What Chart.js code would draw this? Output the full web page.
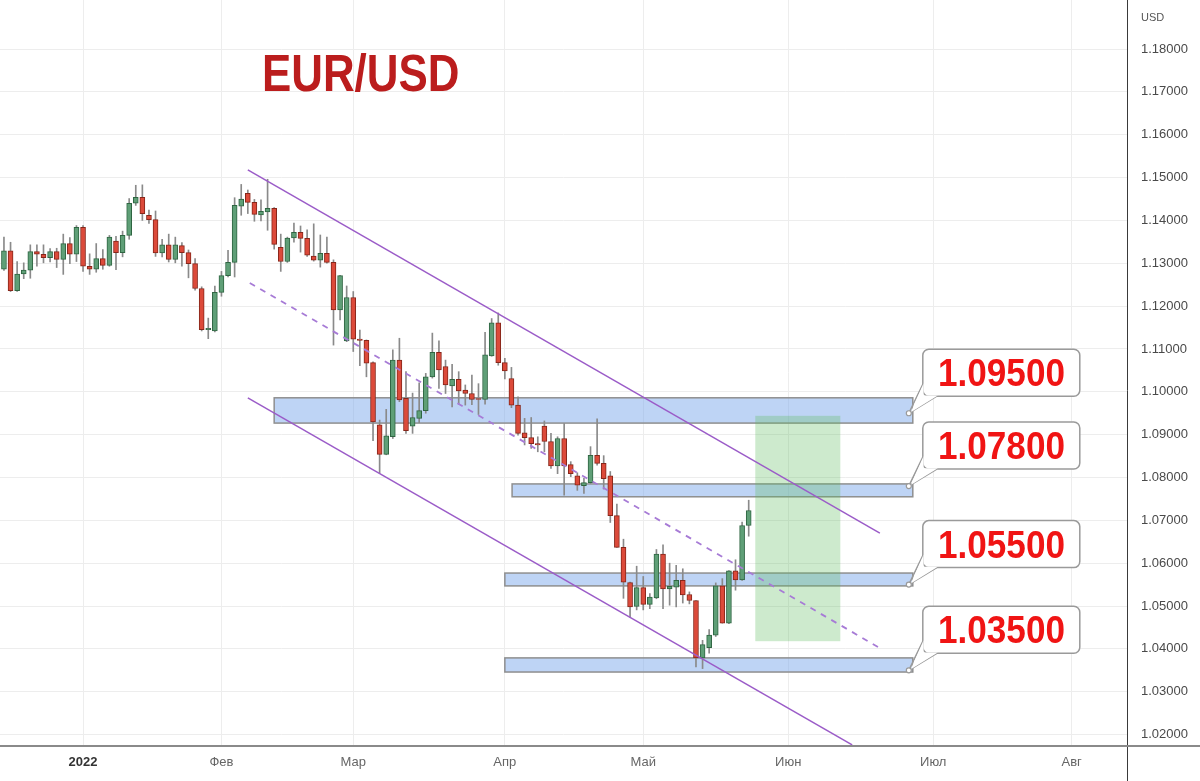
<!DOCTYPE html>
<html>
<head>
<meta charset="utf-8">
<title>EUR/USD</title>
<script src="https://cdn.jsdelivr.net/npm/chart.js@4.4.1/dist/chart.umd.min.js"></script>
<style>
  html, body { margin: 0; padding: 0; background: #fff; }
  #wrap { position: relative; width: 1200px; height: 781px; overflow: hidden; }
  #title {
    position: absolute; left: 262px; top: 48px;
    font: bold 51px "Liberation Sans", Arial, sans-serif; line-height: 51px;
    color: #bb1d1d; white-space: nowrap;
    transform: scaleX(0.86); transform-origin: left top;
  }
  .callout {
    position: absolute; text-align: center; white-space: nowrap;
    font: bold 39px "Liberation Sans", Arial, sans-serif;
    color: #f01414; transform: scaleX(0.9);
  }
</style>
</head>
<body>
<div id="wrap">
  <canvas id="chart" width="1200" height="781"></canvas>
  <div id="title">EUR/USD</div>
</div>
<script>
// daily candles, bar index 0 = 3 Jan 2022 (trading days only)
const firstBar = -12;
const opens = [
  1.1286, 1.1329, 1.1236, 1.1275, 1.1284, 1.1327, 1.1321, 1.1313, 1.1327, 1.1309, 1.1346, 1.1321,
  1.1384, 1.1293, 1.1286, 1.1311, 1.1295, 1.1352, 1.1325, 1.1365, 1.1440, 1.1454,
  1.1412, 1.1402, 1.1324, 1.1343, 1.1309, 1.1341, 1.1325, 1.1299, 1.1241, 1.1145, 1.1142,
  1.1232, 1.1271, 1.1302, 1.1433, 1.1463, 1.1442, 1.1413, 1.1420, 1.1428, 1.1337, 1.1304, 1.1359,
  1.1372, 1.1358, 1.1317, 1.1307, 1.1323, 1.1302, 1.1191, 1.1119,
  1.1220, 1.1123, 1.1120, 1.1068, 1.0923, 1.0854, 1.0895, 1.1074, 1.0985, 1.0920, 1.0938, 1.0956,
  1.1035, 1.1092, 1.1059, 1.1014, 1.1029, 1.1004, 1.0996, 1.0984, 1.0982, 1.1084, 1.1161,
  1.1068, 1.1031, 1.0969, 1.0904, 1.0893, 1.0879, 1.0920, 1.0884, 1.0827, 1.0891, 1.0830,
  1.0804, 1.0781, 1.0788, 1.0852, 1.0833, 1.0804, 1.0711, 1.0637, 1.0555, 1.0499,
  1.0543, 1.0504, 1.0519, 1.0621, 1.0540, 1.0544, 1.0560, 1.0527, 1.0513, 1.0379, 1.0403,
  1.0432, 1.0547, 1.0460, 1.0582, 1.0561, 1.0688
];
const highs = [
  1.1361, 1.1349, 1.1304, 1.1301, 1.1343, 1.1343, 1.1343, 1.1334, 1.1335, 1.1368, 1.1360, 1.1388,
  1.1388, 1.1322, 1.1346, 1.1332, 1.1365, 1.1363, 1.1375, 1.1451, 1.1482, 1.1483,
  1.1424, 1.1422, 1.1356, 1.1368, 1.1361, 1.1348, 1.1331, 1.1311, 1.1245, 1.1172, 1.1247,
  1.1281, 1.1330, 1.1453, 1.1484, 1.1471, 1.1449, 1.1448, 1.1496, 1.1430, 1.1368, 1.1361, 1.1394,
  1.1387, 1.1378, 1.1392, 1.1366, 1.1361, 1.1308, 1.1272, 1.1247,
  1.1234, 1.1144, 1.1121, 1.1070, 1.0934, 1.0959, 1.1098, 1.1125, 1.1047, 1.0997, 1.1021, 1.1043,
  1.1137, 1.1119, 1.1074, 1.1064, 1.1047, 1.1016, 1.1039, 1.1019, 1.1139, 1.1171, 1.1184,
  1.1078, 1.1057, 1.0988, 1.0938, 1.0940, 1.0895, 1.0932, 1.0903, 1.0895, 1.0926, 1.0837,
  1.0811, 1.0798, 1.0872, 1.0937, 1.0851, 1.0814, 1.0738, 1.0656, 1.0556, 1.0593,
  1.0569, 1.0529, 1.0632, 1.0643, 1.0600, 1.0595, 1.0587, 1.0533, 1.0513, 1.0420, 1.0445,
  1.0554, 1.0564, 1.0583, 1.0608, 1.0696, 1.0747
];
const lows = [
  1.1283, 1.1234, 1.1234, 1.1264, 1.1265, 1.1293, 1.1301, 1.1303, 1.1290, 1.1274, 1.1299, 1.1304,
  1.1281, 1.1274, 1.1279, 1.1286, 1.1293, 1.1285, 1.1315, 1.1356, 1.1435, 1.1400,
  1.1393, 1.1316, 1.1315, 1.1303, 1.1301, 1.1293, 1.1266, 1.1237, 1.1142, 1.1124, 1.1140,
  1.1223, 1.1268, 1.1268, 1.1412, 1.1416, 1.1398, 1.1399, 1.1377, 1.1333, 1.1281, 1.1302, 1.1349,
  1.1326, 1.1316, 1.1305, 1.1291, 1.1300, 1.1109, 1.1168, 1.1117,
  1.1094, 1.1061, 1.1035, 1.0886, 1.0810, 1.0853, 1.0891, 1.0977, 1.0903, 1.0903, 1.0928, 1.0950,
  1.1032, 1.1008, 1.0996, 1.0965, 1.0971, 1.0969, 1.0970, 1.0947, 1.0971, 1.1083, 1.1062,
  1.1030, 1.0963, 1.0899, 1.0876, 1.0868, 1.0860, 1.0860, 1.0821, 1.0809, 1.0759, 1.0802,
  1.0770, 1.0763, 1.0786, 1.0829, 1.0773, 1.0695, 1.0637, 1.0518, 1.0474, 1.0491,
  1.0491, 1.0494, 1.0517, 1.0494, 1.0502, 1.0498, 1.0507, 1.0505, 1.0358, 1.0354, 1.0390,
  1.0429, 1.0460, 1.0459, 1.0537, 1.0560, 1.0663
];
const closes = [
  1.1329, 1.1236, 1.1275, 1.1284, 1.1327, 1.1321, 1.1313, 1.1327, 1.1309, 1.1346, 1.1321, 1.1384,
  1.1293, 1.1286, 1.1311, 1.1295, 1.1361, 1.1325, 1.1365, 1.1440, 1.1454, 1.1416,
  1.1402, 1.1324, 1.1343, 1.1309, 1.1343, 1.1325, 1.1299, 1.1241, 1.1145, 1.1148, 1.1232,
  1.1271, 1.1302, 1.1435, 1.1450, 1.1442, 1.1414, 1.1421, 1.1428, 1.1344, 1.1304, 1.1359, 1.1372,
  1.1358, 1.1319, 1.1307, 1.1323, 1.1302, 1.1191, 1.1271, 1.1220,
  1.1123, 1.1120, 1.1067, 1.0930, 1.0854, 1.0897, 1.1074, 1.0981, 1.0909, 1.0940, 1.0956, 1.1035,
  1.1092, 1.1051, 1.1016, 1.1029, 1.1002, 1.0996, 1.0982, 1.0982, 1.1086, 1.1161, 1.1068,
  1.1049, 1.0969, 1.0903, 1.0893, 1.0879, 1.0876, 1.0884, 1.0827, 1.0891, 1.0827, 1.0809,
  1.0782, 1.0788, 1.0852, 1.0833, 1.0797, 1.0711, 1.0637, 1.0556, 1.0498, 1.0543,
  1.0504, 1.0521, 1.0621, 1.0540, 1.0546, 1.0560, 1.0526, 1.0513, 1.0379, 1.0410, 1.0432,
  1.0547, 1.0460, 1.0582, 1.0561, 1.0688, 1.0723
];

// axis ticks
const monthTicks = [0, 21, 41, 64, 85, 107, 129, 150];
const monthLabels = ['2022', 'Фев', 'Мар', 'Апр', 'Май', 'Июн', 'Июл', 'Авг'];
const priceTicks = [1.02, 1.03, 1.04, 1.05, 1.06, 1.07, 1.08, 1.09, 1.10,
  1.11, 1.12, 1.13, 1.14, 1.15, 1.16, 1.17, 1.18];

// support / resistance zones
const zoneLabels = ['1.09500', '1.07800', '1.05500', '1.03500'];
const zoneLevels = [1.095, 1.078, 1.055, 1.035];
const zoneFrom = [29.0, 65.1, 64.0, 64.0];
const zoneTo = [125.9, 125.9, 125.9, 125.9];
const zoneHigh = [1.0986, 1.0785, 1.0577, 1.0379];
const zoneLow = [1.0927, 1.0755, 1.0547, 1.0346];

// target area
const targetFrom = 102.0, targetTo = 114.9;
const targetLow = 1.0418, targetHigh = 1.0944;

// falling channel
const channelTop = [{ x: 25.0, y: 1.1518 }, { x: 120.9, y: 1.0670 }];
const channelMid = [{ x: 25.3, y: 1.1254 }, { x: 120.9, y: 1.0402 }];
const channelBottom = [{ x: 25.0, y: 1.0986 }, { x: 116.7, y: 1.0176 }];

const FONT = '"Liberation Sans", Arial, sans-serif';
const GREEN = '#5f9f77', GREEN_EDGE = '#2f6542';
const RED = '#dc4a3a', RED_EDGE = '#86261a';

const barIdx = opens.map((o, k) => firstBar + k);
const rising = opens.map((o, k) => closes[k] >= o);

function calloutBox(chart, k) {
  const xs = chart.scales.x, ys = chart.scales.y;
  const ax = xs.getPixelForValue(zoneTo[k]) - 4;
  const ay = ys.getPixelForValue(zoneLevels[k]);
  return { ax, ay, x: ax + 14, y: ay - 64, w: 157, h: 47 };
}

function roundRect(ctx, x, y, w, h, r) {
  ctx.beginPath();
  ctx.moveTo(x + r, y);
  ctx.arcTo(x + w, y, x + w, y + h, r);
  ctx.arcTo(x + w, y + h, x, y + h, r);
  ctx.arcTo(x, y + h, x, y, r);
  ctx.arcTo(x, y, x + w, y, r);
  ctx.closePath();
}

const drawings = {
  id: 'drawings',
  beforeDatasetsDraw(chart) {
    const { ctx, scales: { x, y } } = chart;
    ctx.save();
    // zones
    zoneFrom.forEach((f, k) => {
      const x1 = x.getPixelForValue(f), x2 = x.getPixelForValue(zoneTo[k]);
      const y1 = y.getPixelForValue(zoneHigh[k]), y2 = y.getPixelForValue(zoneLow[k]);
      ctx.fillStyle = 'rgba(125,170,235,0.5)';
      ctx.fillRect(x1, y1, x2 - x1, y2 - y1);
      ctx.strokeStyle = '#8f8f8f';
      ctx.lineWidth = 1.5;
      ctx.strokeRect(x1, y1, x2 - x1, y2 - y1);
    });
    // target box
    const tx1 = x.getPixelForValue(targetFrom), tx2 = x.getPixelForValue(targetTo);
    const ty1 = y.getPixelForValue(targetHigh), ty2 = y.getPixelForValue(targetLow);
    ctx.fillStyle = 'rgba(90,185,90,0.3)';
    ctx.fillRect(tx1, ty1, tx2 - tx1, ty2 - ty1);
    ctx.restore();
  },
  afterDraw(chart) {
    const { ctx, chartArea: a } = chart;
    ctx.save();
    // callouts
    zoneLabels.forEach((t, k) => {
      const b = calloutBox(chart, k);
      ctx.fillStyle = '#fff';
      ctx.strokeStyle = '#9a9a9a';
      ctx.lineWidth = 1.5;
      roundRect(ctx, b.x, b.y, b.w, b.h, 6);
      ctx.fill();
      ctx.stroke();
      // tail
      ctx.beginPath();
      ctx.moveTo(b.x, b.y + b.h - 12);
      ctx.lineTo(b.ax, b.ay);
      ctx.lineTo(b.x + 14, b.y + b.h);
      ctx.stroke();
      ctx.beginPath();
      ctx.moveTo(b.x + 0.8, b.y + b.h - 13);
      ctx.lineTo(b.ax + 2, b.ay - 1);
      ctx.lineTo(b.x + 15, b.y + b.h - 0.8);
      ctx.lineTo(b.x + 0.8, b.y + b.h - 0.8);
      ctx.closePath();
      ctx.fill();
      // anchor dot
      ctx.beginPath();
      ctx.arc(b.ax, b.ay, 2.5, 0, Math.PI * 2);
      ctx.fillStyle = '#fff';
      ctx.fill();
      ctx.lineWidth = 1.2;
      ctx.stroke();
    });
    // axis frame
    ctx.strokeStyle = '#3a3a3a';
    ctx.lineWidth = 1;
    ctx.beginPath();
    ctx.moveTo(a.right + 0.5, 0);
    ctx.lineTo(a.right + 0.5, chart.height);
    ctx.stroke();
    ctx.strokeStyle = '#8a8a8a';
    ctx.lineWidth = 2;
    ctx.beginPath();
    ctx.moveTo(0, a.bottom + 1);
    ctx.lineTo(chart.width, a.bottom + 1);
    ctx.stroke();
    ctx.fillStyle = '#555';
    ctx.font = '11px ' + FONT;
    ctx.textBaseline = 'middle';
    ctx.fillText('USD', a.right + 14, 18);
    ctx.restore();
  }
};

const chart = new Chart(document.getElementById('chart'), {
  type: 'bar',
  data: {
    datasets: [
      {
        type: 'line', data: channelTop, borderColor: '#9b5cc8', borderWidth: 1.5,
        pointRadius: 0, order: 0
      },
      {
        type: 'line', data: channelMid, borderColor: '#a77bd6', borderWidth: 1.8,
        borderDash: [6, 6], pointRadius: 0, order: 0
      },
      {
        type: 'line', data: channelBottom, borderColor: '#9b5cc8', borderWidth: 1.5,
        pointRadius: 0, order: 0
      },
      {
        label: 'wick',
        data: barIdx.map((i, k) => ({ x: i, y: [lows[k], highs[k]] })),
        backgroundColor: '#8a8a8a', barThickness: 1, grouped: false, order: 2
      },
      {
        label: 'body',
        data: barIdx.map((i, k) => ({ x: i, y: [opens[k], closes[k]] })),
        backgroundColor: rising.map(r => r ? GREEN : RED),
        borderColor: rising.map(r => r ? GREEN_EDGE : RED_EDGE),
        borderWidth: 1, borderSkipped: false, barThickness: 5,
        minBarLength: 1, grouped: false, order: 1
      }
    ]
  },
  options: {
    responsive: false,
    animation: false,
    devicePixelRatio: 1,
    layout: { padding: 0 },
    plugins: { legend: { display: false }, tooltip: { enabled: false } },
    scales: {
      x: {
        type: 'linear', min: -12.6, max: 158.4, offset: false,
        grid: { color: '#ededed', offset: false, drawTicks: false },
        border: { display: false },
        afterBuildTicks: s => { s.ticks = monthTicks.map(v => ({ value: v })); },
        afterFit: s => { s.height = 36; s.paddingLeft = 0; s.paddingRight = 0; },
        ticks: {
          autoSkip: false, maxRotation: 0, padding: 10,
          callback: v => monthLabels[monthTicks.indexOf(v)],
          color: c => c.index === 0 ? '#333' : '#666',
          font: c => ({ family: FONT, size: 13, weight: c.index === 0 ? 'bold' : 'normal' })
        }
      },
      y: {
        type: 'linear', position: 'right', min: 1.01757, max: 1.19144, beginAtZero: false,
        grid: { color: '#ededed', drawTicks: false },
        border: { display: false },
        afterBuildTicks: s => { s.ticks = priceTicks.map(v => ({ value: v })); },
        afterFit: s => { s.width = 73; s.paddingTop = 0; s.paddingBottom = 0; },
        ticks: {
          padding: 14, color: '#4a4a4a',
          font: { family: FONT, size: 13 },
          callback: v => v.toFixed(5)
        }
      }
    }
  },
  plugins: [drawings]
});

// callout texts as real text over the boxes
const wrap = document.getElementById('wrap');
zoneLabels.forEach((t, k) => {
  const b = calloutBox(chart, k);
  const d = document.createElement('div');
  d.className = 'callout';
  d.textContent = t;
  d.style.left = b.x + 'px';
  d.style.top = b.y + 'px';
  d.style.width = b.w + 'px';
  d.style.height = b.h + 'px';
  d.style.lineHeight = b.h + 'px';
  wrap.appendChild(d);
});
</script>
</body>
</html>
